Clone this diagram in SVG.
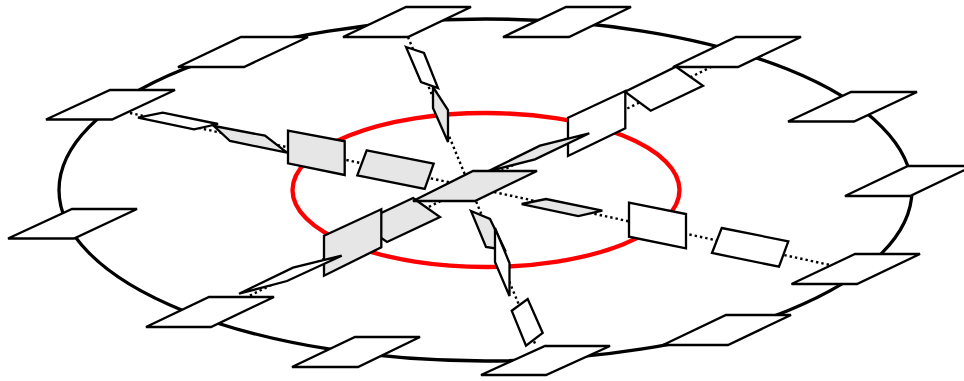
<svg xmlns="http://www.w3.org/2000/svg" width="964" height="381" viewBox="0 0 964 381">
<style>
.n{fill:#fff;stroke:#000;stroke-width:2.300;stroke-linejoin:miter}
.g{fill:#e6e6e6;stroke:#000;stroke-width:2.300;stroke-linejoin:miter}
.d{stroke:#000;stroke-width:2.400;stroke-dasharray:2.400 3;fill:none}
</style>
<rect width="964" height="381" fill="#fff"/>
<g id="rings" fill="none">
<ellipse cx="485.500" cy="190" rx="426.500" ry="171" stroke="#000" stroke-width="3.300"/>
<ellipse cx="486" cy="190" rx="193.500" ry="77" stroke="#f00" stroke-width="4.300"/>
</g>
<g id="connectors">
<line class="d" x1="130" y1="113" x2="830" y2="265"/>
<line class="d" x1="408" y1="37" x2="536" y2="346"/>
<line class="d" x1="711.700" y1="66.700" x2="245" y2="298"/>
</g>
<g id="outer">
<polygon id="o1" class="n" points="343,37 406,7 471,7 408,37"/>
<polygon id="o2" class="n" points="503,37 566,7 631,7 569,37"/>
<polygon id="o3" class="n" points="673,67 736,37 801,37 738,67"/>
<polygon id="o4" class="n" points="788,121.500 851,92 917,92 854,121.500"/>
<polygon id="o5" class="n" points="845,196 908,166 973,166 910,196"/>
<polygon id="o6" class="n" points="791.500,284 855,254 920,254 857,284"/>
<polygon id="o7" class="n" points="663,345 726,315 791,315 728,345"/>
<polygon id="o8" class="n" points="481,375 545,346 610,346 546,375"/>
<polygon id="o9" class="n" points="292,367 355,337 420,337 358,367"/>
<polygon id="o10" class="n" points="146,327 209,297 274,297 211,327"/>
<polygon id="o11" class="n" points="8,238.500 72,209 137,209 74,238.500"/>
<polygon id="o12" class="n" points="46,119.500 110,90 175,90 112,119.500"/>
<polygon id="o13" class="n" points="178,67 241,37 308,37 244,67"/>
</g>
<g id="top-chain">
<polygon class="g" points="433,87 448,110 448,142 433,108"/>
<polygon class="n" points="406,47 424,53 438,88 421,82"/>
</g>
<g id="bottom-chain">
<polygon class="g" points="471,211 490,219 505,250 486,247"/>
<polygon class="n" points="495,228 509.500,263 509.500,296 495,262"/>
<polygon class="n" points="511.700,310.700 527.700,299 542.700,333 526,345.700"/>
</g>
<g id="upper-right-chain">
<polygon class="n" points="676,66.700 703,85.700 650.700,110.700 625,91.700"/>
<polygon class="n" points="568,117.700 625.300,91 625.300,128.300 568,156"/>
<polygon class="g" points="487,171.700 540,145.700 589.300,133.300 535,159.300"/>
</g>
<g id="lower-left-chain">
<polygon class="g" points="413,198 440,217 387,242 360,223"/>
<polygon class="g" points="324,235.700 381.300,209.300 381.300,247.300 324,275.700"/>
<polygon class="n" points="239,293.700 293,267.700 341.700,255.700 287,281"/>
</g>
<g id="left-chain">
<polygon class="n" points="138,117.700 162.700,112.700 218,124 194,129.300"/>
<polygon class="g" points="214,126 265,135.700 287,152.700 230,141"/>
<polygon class="g" points="288,130.700 344.700,141.300 344.700,175 288,163.300"/>
<polygon class="g" points="366.700,150.300 433.700,163.700 424.700,189 357.300,175.300"/>
</g>
<g id="right-chain">
<polygon class="g" points="521.700,204 546,199 602.300,210.700 578.300,216"/>
<polygon class="n" points="629,202.700 686,214 686,248.300 629,236.700"/>
<polygon class="n" points="721.700,228 788.300,241.300 779,266.700 712,253"/>
</g>
<polygon id="center" class="g" points="413,201 473,171 537,171 475,201"/>
</svg>
